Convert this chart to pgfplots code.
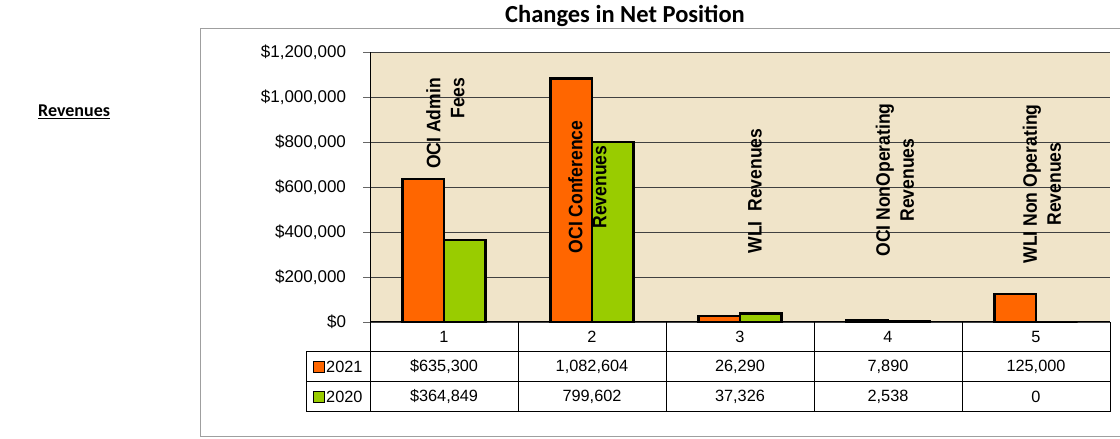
\documentclass[border=0pt]{standalone}
\usepackage{pgfplots}
\pgfplotsset{compat=1.18}
\usepackage{fontspec}
\setmainfont{Liberation Sans}
\newfontfamily\calibri{Carlito}
\newfontfamily\labfont{Liberation Sans}[FakeStretch=0.9]
\definecolor{orng}{HTML}{FF6600}
\definecolor{grn}{HTML}{99CC00}
\definecolor{parch}{RGB}{240,228,201}
\begin{document}
\begin{tikzpicture}[x=1pt,y=1pt]
\path[use as bounding box] (0,0) rectangle (1120,439);
\draw[gray!75, line width=1pt] (200,2) rectangle (1130,410);
\begin{axis}[
  at={(370pt,117pt)}, anchor=south west,
  scale only axis, width=740pt, height=270pt,
  xmin=0.5, xmax=5.5, ymin=0, ymax=1200000,
  axis background/.style={fill=parch},
  ybar=0pt, bar width=41.5pt,
  xtick=\empty,
  ytick={0,200000,400000,600000,800000,1000000,1200000},
  yticklabels={{\$0},{\$200,000},{\$400,000},{\$600,000},{\$800,000},{\$1,000,000},{\$1,200,000}},
  scaled y ticks=false,
  axis lines*=left,
  axis line style={-, black, line width=1pt},
  ymajorgrids, grid style={black!75, line width=0.9pt},
  tick align=outside, major tick length=7pt, ytick pos=left,
  major tick style={black!60, line width=0.9pt},
  yticklabel style={font=\fontsize{17}{20}\selectfont, xshift=-13.5pt},
  clip=false,
]
\addplot[fill=orng, draw=black, line width=2.6pt] coordinates {(1,635300) (2,1082604) (3,26290) (4,7890) (5,125000)};
\addplot[fill=grn, draw=black, line width=2.6pt] coordinates {(1,364849) (2,799602) (3,37326) (4,2538) (5,0)};
\end{axis}
% category labels
\begin{scope}[every node/.style={rotate=90, inner sep=0pt, font=\labfont\bfseries\fontsize{19.5}{24}\selectfont}]
\node[align=right, anchor=east] at (445.5,361) {OCI Admin\\Fees};
\node[align=center] at (587.5,252) {OCI Conference\\Revenues};
\node[align=center] at (755,248) {WLI\ \ Revenues};
\node[align=center] at (895,259) {OCI NonOperating\\Revenues};
\node[align=center] at (1042,255) {WLI Non Operating\\Revenues};
\end{scope}
% data table
\begin{scope}[line width=1pt]
\draw (306,87) -- (1110,87);
\draw (306,57) -- (1110,57);
\draw (306,27) -- (1110,27);
\draw (306,87) -- (306,27);
\draw (370,117) -- (370,27);
\foreach \xx in {518,666,814,962,1110} \draw (\xx,117) -- (\xx,27);
\end{scope}
\begin{scope}[every node/.style={font=\fontsize{16.3}{18}\selectfont, inner sep=0pt}]
\node at (444,102) {1};
\node at (592,102) {2};
\node at (740,102) {3};
\node at (888,102) {4};
\node at (1036,102) {5};
\node at (444,72) {\$635,300};
\node at (592,72) {1,082,604};
\node at (740,72) {26,290};
\node at (888,72) {7,890};
\node at (1036,72) {125,000};
\node at (444,42) {\$364,849};
\node at (592,42) {799,602};
\node at (740,42) {37,326};
\node at (888,42) {2,538};
\node at (1036,42) {0};
\node[anchor=west] at (326,72) {2021};
\node[anchor=west] at (326,42) {2020};
\end{scope}
\draw[fill=orng, line width=1pt] (313,66.5) rectangle (324,77.5);
\draw[fill=grn, line width=1pt] (313,36.5) rectangle (324,47.5);
% titles
\node[anchor=base, inner sep=0pt, font=\calibri\bfseries\fontsize{24.5}{28}\selectfont] at (625,416.5) {Changes in Net Position};
\node[anchor=base west, inner sep=0pt, font=\calibri\bfseries\fontsize{18}{22}\selectfont] at (38,322) {\underline{Revenues}};
\end{tikzpicture}
\end{document}
